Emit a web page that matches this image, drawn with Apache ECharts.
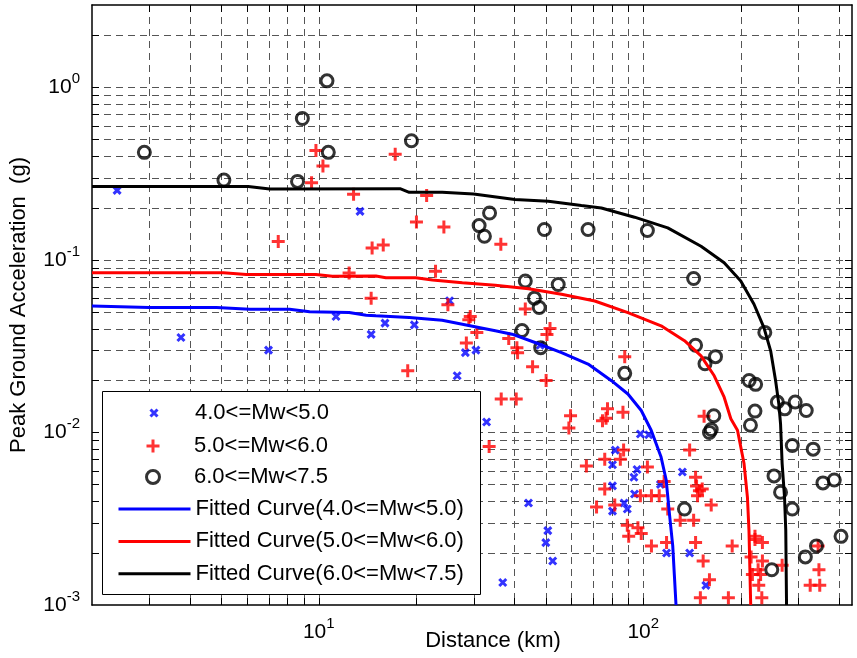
<!DOCTYPE html>
<html>
<head>
<meta charset="utf-8">
<script src="https://cdn.jsdelivr.net/npm/echarts@6.0.0/dist/echarts.min.js"></script>
<style>
  html, body { margin: 0; padding: 0; background: #fff; }
  #chart { width: 857px; height: 658px; }
</style>
</head>
<body>
<div id="chart"></div>
<script>
const FONT = '"Liberation Sans", Arial, Helvetica, sans-serif';

// Magnitude classes and fitted attenuation curves
const classNames = ['4.0<=Mw<5.0', '5.0<=Mw<6.0', '6.0<=Mw<7.5'];
const curveNames = ['Fitted Curve(4.0<=Mw<5.0)', 'Fitted Curve(5.0<=Mw<6.0)', 'Fitted Curve(6.0<=Mw<7.5)'];

// Records: [distance (km), PGA (g)]
const pgaMw4 = [
  [2.39, 0.253], [13.4, 0.191], [3.76, 0.0355], [7.0, 0.030], [11.3, 0.047], [14.5, 0.037],
  [16.0, 0.043], [19.7, 0.042], [25.3, 0.058], [26.7, 0.0213], [28.3, 0.029], [30.5, 0.030],
  [48.1, 0.032], [32.9, 0.0115], [44.3, 0.0039], [50.8, 0.0027], [50.1, 0.0023], [52.6, 0.0018],
  [36.9, 0.00135], [98, 0.0098], [104, 0.0097], [82, 0.0079], [80.4, 0.0065], [95.7, 0.0061],
  [93.6, 0.0055], [132, 0.0059], [80.4, 0.0049], [94, 0.0044], [87.3, 0.0039], [89.3, 0.0036],
  [80.4, 0.0035], [118, 0.0020], [139, 0.0020], [156, 0.0013], [113, 0.0050]
];

const pgaMw5 = [
  [9.8, 0.43], [10.3, 0.35], [9.5, 0.28], [17.2, 0.41], [12.8, 0.24], [21.5, 0.236], [20, 0.166],
  [7.5, 0.128], [14.6, 0.117], [15.8, 0.122], [24.3, 0.155], [12.4, 0.084], [22.9, 0.086],
  [14.5, 0.060], [25, 0.055], [18.8, 0.0228], [36.4, 0.123], [43.3, 0.052], [29.3, 0.047],
  [29.0, 0.045], [30.7, 0.038], [28.5, 0.033], [38.5, 0.035], [40.8, 0.031], [41, 0.029],
  [51.6, 0.040], [50.5, 0.037], [45.6, 0.024], [50.2, 0.020], [36.5, 0.0156], [40.6, 0.0156],
  [87.7, 0.0275], [59.7, 0.0125], [59, 0.0106], [77.6, 0.0137], [74.9, 0.0117], [76.8, 0.0121],
  [86.6, 0.0131], [66.8, 0.0064], [76.1, 0.0070], [85, 0.0070], [87, 0.0079], [103, 0.0063],
  [139, 0.0079], [76.1, 0.0047], [71.8, 0.0037], [81.7, 0.0038], [98, 0.0043], [106, 0.0043],
  [112, 0.0043], [116, 0.0052], [119, 0.0036], [89.3, 0.0029], [96.3, 0.0028], [98.6, 0.0026],
  [90.2, 0.0025], [106, 0.0022], [118, 0.0023], [130, 0.0031], [33.5, 0.0083], [154, 0.0124],
  [145, 0.0055], [146, 0.0049], [149, 0.0046], [147, 0.0043], [152, 0.0047], [162, 0.0038],
  [143, 0.0031], [145, 0.0023], [153, 0.0018], [160, 0.0014], [150, 0.0011], [183, 0.0011],
  [188, 0.0022], [221, 0.0025], [233, 0.0023], [215, 0.0019], [233, 0.0018], [217, 0.0015],
  [230, 0.0015], [227, 0.0013], [232, 0.0011], [268, 0.0017], [348, 0.0016], [327, 0.0013],
  [350, 0.0013], [346, 0.0022], [221, 0.0024], [226, 0.0016]
];

const pgaMw6 = [
  [2.9, 0.42], [5.1, 0.29], [8.6, 0.285], [8.9, 0.66], [10.6, 1.09], [10.7, 0.42], [19.3, 0.49],
  [33.6, 0.187], [31.2, 0.158], [32.4, 0.137], [49.6, 0.150], [67.6, 0.150], [103, 0.148],
  [43.3, 0.0754], [54.7, 0.072], [46.2, 0.060], [47.8, 0.053], [42.3, 0.039], [48.3, 0.031],
  [87.7, 0.022], [143, 0.078], [237, 0.038], [145, 0.032], [155, 0.025], [167, 0.0275],
  [212, 0.020], [222, 0.019], [259, 0.015], [273, 0.0137], [294, 0.015], [318, 0.0134],
  [221, 0.0133], [214, 0.011], [165, 0.0125], [162, 0.0104], [160, 0.0100], [288, 0.0084],
  [334, 0.0080], [253, 0.0056], [265, 0.0045], [288, 0.0036], [358, 0.0051], [388, 0.0053],
  [407, 0.0025], [342, 0.0022], [316, 0.0019], [249, 0.0016], [134, 0.0036]
];

// Fitted curves: [distance (km), PGA (g)]
const fitMw4 = [
  [2, 0.0541], [3, 0.0529], [4.84, 0.0529], [6.13, 0.0518], [8.13, 0.0518], [9.37, 0.0501],
  [12.4, 0.0495], [14, 0.0478], [15, 0.0474], [19, 0.0463], [24, 0.0447], [27.7, 0.0424],
  [35, 0.0388], [39.4, 0.0371], [46.4, 0.0332], [56, 0.029], [67.6, 0.0249], [79.8, 0.01995],
  [89.7, 0.0167], [98.6, 0.0134], [105.8, 0.0103], [113.5, 0.0072], [117.7, 0.0053],
  [120.4, 0.0034], [123.3, 0.0022], [124.7, 0.0015], [126.2, 0.001]
];
const fitMw5 = [
  [2, 0.0842], [5.08, 0.0842], [5.98, 0.0824], [9.8, 0.0824], [11, 0.0803], [15, 0.0806],
  [16.1, 0.0788], [19.9, 0.0788], [22.4, 0.0764], [27.7, 0.0737], [35, 0.0712], [44.3, 0.0681],
  [56, 0.0632], [70.9, 0.0578], [89.7, 0.0495], [113.5, 0.0415], [134, 0.034], [150.7, 0.0278],
  [165.5, 0.0213], [177.6, 0.016], [186.2, 0.012], [195.2, 0.0103], [204.5, 0.0066],
  [209.5, 0.0042], [211.8, 0.0027], [214.4, 0.001]
];
const fitMw6 = [
  [2, 0.266], [6.06, 0.266], [7.06, 0.2575], [17.8, 0.2585], [19, 0.2464], [24, 0.2464],
  [30, 0.241], [40.2, 0.2236], [51, 0.2187], [64.5, 0.2065], [74.3, 0.2], [94, 0.1768],
  [119, 0.1532], [150.7, 0.12], [177.6, 0.0962], [199.8, 0.0754], [219.5, 0.0553],
  [235.5, 0.0405], [247, 0.0297], [255.8, 0.02], [261.8, 0.0146], [265, 0.0112], [268, 0.0066],
  [272.6, 0.0042], [275, 0.0027], [276.5, 0.001]
];

// Axis ranges, labelled decades and log grid positions
const xRange = [2, 440];
const yRange = [0.001, 3];
const xTickValues = [10, 100];
const yTickValues = [0.001, 0.01, 0.1, 1];
const gridX = [3, 4, 5, 6, 7, 8, 9, 10, 20, 30, 40, 50, 60, 70, 80, 90, 100, 200, 300, 400];
const gridY = [0.002, 0.003, 0.004, 0.005, 0.006, 0.007, 0.008, 0.009,
               0.01, 0.02, 0.03, 0.04, 0.05, 0.06, 0.07, 0.08, 0.09,
               0.1, 0.2, 0.3, 0.4, 0.5, 0.6, 0.7, 0.8, 0.9, 1, 2];

const SYM_X = 'path://M0,0L10,10M10,0L0,10';
const SYM_PLUS = 'path://M5,0L5,10M0,5L10,5';

// Tick label typography: base "10" and raised exponent
const BASE_SIZE = 21;
const EXP_SIZE = 15;
const EXP_RISE = 8.5;
const measureCtx = document.createElement('canvas').getContext('2d');
function textWidth(str, size) {
  measureCtx.font = size + 'px ' + FONT;
  return measureCtx.measureText(str).width;
}
function exponentOf(v) {
  return String(Math.round(Math.log10(v)));
}
function labelText(str, x, y, size) {
  return {
    type: 'text', x: x, y: y, silent: true,
    style: { text: str, fontSize: size, fontFamily: FONT, fill: '#000', align: 'left', verticalAlign: 'middle' }
  };
}

// Dashed major/minor grid, inward ticks on all four sides and decade labels
function drawFrame(params, api) {
  const cs = params.coordSys;
  const left = cs.x, top = cs.y, right = cs.x + cs.width, bottom = cs.y + cs.height;
  const dash = { stroke: '#555', lineWidth: 1, lineDash: [7, 5] };
  const tick = { stroke: '#000', lineWidth: 1 };
  const T = 7;
  const out = [];
  gridX.forEach(function (v) {
    const px = Math.round(api.coord([v, yRange[0]])[0]) + 0.5;
    out.push({ type: 'line', shape: { x1: px, y1: top, x2: px, y2: bottom }, style: dash });
    out.push({ type: 'line', shape: { x1: px, y1: bottom, x2: px, y2: bottom - T }, style: tick });
    out.push({ type: 'line', shape: { x1: px, y1: top, x2: px, y2: top + T }, style: tick });
  });
  gridY.forEach(function (v) {
    const py = Math.round(api.coord([xRange[0], v])[1]) + 0.5;
    out.push({ type: 'line', shape: { x1: left, y1: py, x2: right, y2: py }, style: dash });
    out.push({ type: 'line', shape: { x1: left, y1: py, x2: left + T, y2: py }, style: tick });
    out.push({ type: 'line', shape: { x1: right, y1: py, x2: right - T, y2: py }, style: tick });
  });
  const wBase = textWidth('10', BASE_SIZE);
  xTickValues.forEach(function (v) {
    const px = api.coord([v, yRange[0]])[0];
    const e = exponentOf(v);
    const x0 = px - (wBase + textWidth(e, EXP_SIZE)) / 2;
    const yBase = bottom + 27;
    out.push(labelText('10', x0, yBase, BASE_SIZE));
    out.push(labelText(e, x0 + wBase, yBase - EXP_RISE, EXP_SIZE));
  });
  yTickValues.forEach(function (v) {
    const py = api.coord([xRange[0], v])[1];
    const e = exponentOf(v);
    const wExp = textWidth(e, EXP_SIZE);
    const xEnd = left - 12;
    out.push(labelText('10', xEnd - wExp - wBase, py, BASE_SIZE));
    out.push(labelText(e, xEnd - wExp, py - EXP_RISE, EXP_SIZE));
  });
  return { type: 'group', children: out };
}

const chart = echarts.init(document.getElementById('chart'), null, { renderer: 'canvas' });

const legendBase = {
  orient: 'vertical',
  left: 117,
  itemWidth: 72,
  padding: 0,
  itemGap: 10.4,
  selectedMode: false,
  textStyle: { fontSize: 22, fontFamily: FONT, color: '#000', lineHeight: 22 }
};

const frameAxisLine = { show: true, lineStyle: { color: '#000', width: 1.5 } };

chart.setOption({
  backgroundColor: '#fff',
  animation: false,
  grid: { left: 90, right: 5, top: 5, bottom: 53, containLabel: false },
  xAxis: [
    {
      type: 'log', logBase: 10, min: xRange[0], max: xRange[1],
      name: 'Distance (km)', nameLocation: 'middle', nameGap: 25,
      nameTextStyle: { fontSize: 22, fontFamily: FONT, color: '#000', padding: [0, 0, 0, 42] },
      axisLine: frameAxisLine,
      axisTick: { show: false },
      splitLine: { show: false },
      minorTick: { show: false },
      axisLabel: { show: false }
    },
    {
      type: 'log', logBase: 10, min: xRange[0], max: xRange[1], position: 'top',
      axisLine: frameAxisLine, axisTick: { show: false }, axisLabel: { show: false }, splitLine: { show: false }
    }
  ],
  yAxis: [
    {
      type: 'log', logBase: 10, min: yRange[0], max: yRange[1],
      name: 'Peak Ground Acceleration  (g)', nameLocation: 'middle', nameGap: 62,
      nameTextStyle: { fontSize: 22, fontFamily: FONT, color: '#000' },
      axisLine: frameAxisLine,
      axisTick: { show: false },
      splitLine: { show: false },
      minorTick: { show: false },
      axisLabel: { show: false }
    },
    {
      type: 'log', logBase: 10, min: yRange[0], max: yRange[1], position: 'right',
      axisLine: frameAxisLine, axisTick: { show: false }, axisLabel: { show: false }, splitLine: { show: false }
    }
  ],
  legend: [
    Object.assign({}, legendBase, { left: 149, top: 402, data: [classNames[0]], itemHeight: 7, itemStyle: { borderWidth: 3 } }),
    Object.assign({}, legendBase, { left: 145, top: 435, data: [classNames[1]], itemHeight: 13, itemStyle: { borderWidth: 3 } }),
    Object.assign({}, legendBase, { left: 145, top: 466, data: [classNames[2]], itemHeight: 13, itemStyle: { borderWidth: 3 } }),
    Object.assign({}, legendBase, {
      top: 498, data: curveNames, itemHeight: 14, lineStyle: { width: 3 },
      itemStyle: { color: 'rgba(0,0,0,0)', borderWidth: 0 }
    })
  ],
  graphic: [
    {
      type: 'rect', z: 3, silent: true,
      shape: { x: 102.5, y: 391.5, width: 378, height: 203 },
      style: { fill: '#fff', stroke: '#000', lineWidth: 1 }
    }
  ],
  series: [
    {
      type: 'custom', name: 'frame', coordinateSystem: 'cartesian2d', silent: true, z: 1,
      renderItem: drawFrame, data: [[xRange[0], yRange[0]]], clip: false
    },
    {
      type: 'scatter', name: classNames[0], data: pgaMw4, symbol: SYM_X, symbolSize: 7,
      itemStyle: { color: '#0000ff', borderColor: '#0000ff', borderWidth: 3 },
      emphasis: { disabled: true }
    },
    {
      type: 'scatter', name: classNames[1], data: pgaMw5, symbol: SYM_PLUS, symbolSize: 13,
      itemStyle: { color: '#ff0000', borderColor: '#ff0000', borderWidth: 3 },
      emphasis: { disabled: true }
    },
    {
      type: 'scatter', name: classNames[2], data: pgaMw6, symbol: 'circle', symbolSize: 12,
      itemStyle: { color: 'rgba(0,0,0,0)', borderColor: '#000', borderWidth: 3 },
      emphasis: { disabled: true }
    },
    {
      type: 'line', name: curveNames[0], data: fitMw4, symbol: 'none',
      lineStyle: { color: '#0000ff', width: 3 }, itemStyle: { color: '#0000ff' }, emphasis: { disabled: true }
    },
    {
      type: 'line', name: curveNames[1], data: fitMw5, symbol: 'none',
      lineStyle: { color: '#ff0000', width: 3 }, itemStyle: { color: '#ff0000' }, emphasis: { disabled: true }
    },
    {
      type: 'line', name: curveNames[2], data: fitMw6, symbol: 'none',
      lineStyle: { color: '#000', width: 3 }, itemStyle: { color: '#000' }, emphasis: { disabled: true }
    }
  ]
});
</script>
</body>
</html>
